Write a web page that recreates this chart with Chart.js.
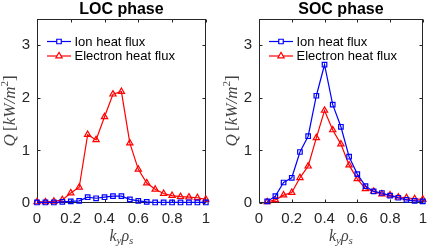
<!DOCTYPE html>
<html>
<head>
<meta charset="utf-8">
<script src="https://cdn.jsdelivr.net/npm/chart.js@4.4.0/dist/chart.umd.min.js"></script>
<style>
  body { margin: 0; background: #fff; }
  #wrap { position: relative; width: 434px; height: 248px; }
  canvas { position: absolute; top: 0; }
</style>
</head>
<body>
<div id="wrap">
  <canvas id="locChart" width="217" height="248" style="left:0"></canvas>
  <canvas id="socChart" width="217" height="248" style="left:217px"></canvas>
</div>
<script>
// k_y rho_s values
const kyLOC = [0, 0.05, 0.1, 0.15, 0.2, 0.25, 0.3, 0.35, 0.4, 0.45, 0.5, 0.55, 0.6, 0.65, 0.7, 0.75, 0.8, 0.85, 0.9, 0.95, 1.0];
const kySOC = [0.05, 0.1, 0.15, 0.2, 0.25, 0.3, 0.35, 0.4, 0.45, 0.5, 0.55, 0.6, 0.65, 0.7, 0.75, 0.8, 0.85, 0.9, 0.95, 1.0];

// heat flux Q [kW/m^2]
const ionLOC = [0.01, 0.01, 0.01, 0.02, 0.03, 0.04, 0.11, 0.09, 0.11, 0.13, 0.13, 0.07, 0.04, 0.02, 0.01, 0.01, 0.01, 0.01, 0.01, 0.01, 0.01];
const elecLOC = [0.02, 0.02, 0.03, 0.06, 0.19, 0.30, 1.30, 1.20, 1.64, 2.07, 2.12, 1.14, 0.64, 0.38, 0.26, 0.18, 0.14, 0.12, 0.11, 0.10, 0.07];
const ionSOC = [0.03, 0.13, 0.39, 0.48, 0.97, 1.27, 2.04, 2.63, 1.87, 1.45, 0.88, 0.55, 0.32, 0.22, 0.19, 0.14, 0.10, 0.06, 0.04, 0.03];
const elecSOC = [0.02, 0.06, 0.15, 0.20, 0.48, 0.70, 1.24, 1.76, 1.39, 1.12, 0.72, 0.46, 0.27, 0.22, 0.17, 0.15, 0.11, 0.10, 0.08, 0.07];

const xTicks = [0, 0.2, 0.4, 0.6, 0.8, 1];
const yTicks = [0, 1, 2, 3];
const seriesNames = ['Ion heat flux', 'Electron heat flux'];

const axisColor = '#262626';
const sans = "'Liberation Sans', Arial, sans-serif";
const serif = "'Liberation Serif', 'Times New Roman', serif";

function drawPieces(ctx, pieces, x, y) {
    let total = 0;
    pieces.forEach(p => { ctx.font = p.font; p.w = ctx.measureText(p.text).width; total += p.w; });
    let cx = x - total / 2;
    pieces.forEach(p => { ctx.font = p.font; ctx.fillText(p.text, cx, y + (p.dy || 0)); cx += p.w; });
}

const framePlugin = {
    id: 'frame',
    beforeDatasetsDraw(chart) {
        const ctx = chart.ctx;
        const a = chart.chartArea;
        const xs = chart.scales.x, ys = chart.scales.y;
        const L = Math.round(a.left) + 0.5, R = Math.round(a.right) - 0.5;
        const T = Math.round(a.top) + 0.5, B = Math.round(a.bottom) - 0.5;
        ctx.save();
        ctx.strokeStyle = axisColor;
        ctx.lineWidth = 1;
        ctx.strokeRect(L, T, R - L, B - T);
        ctx.beginPath();
        xTicks.forEach(v => {
            const px = Math.round(xs.getPixelForValue(v)) + 0.5;
            ctx.moveTo(px, B); ctx.lineTo(px, B - 3);
            ctx.moveTo(px, T); ctx.lineTo(px, T + 3);
        });
        yTicks.forEach(v => {
            const py = Math.round(ys.getPixelForValue(v)) + 0.5;
            ctx.moveTo(L, py); ctx.lineTo(L + 3, py);
            ctx.moveTo(R, py); ctx.lineTo(R - 3, py);
        });
        ctx.stroke();
        ctx.restore();
    },
    afterDraw(chart, args, opts) {
        const ctx = chart.ctx;
        const a = chart.chartArea;
        const midX = (a.left + a.right) / 2;
        const midY = (a.top + a.bottom) / 2;
        ctx.save();

        // title
        ctx.fillStyle = '#000';
        ctx.textAlign = 'center';
        ctx.textBaseline = 'alphabetic';
        ctx.font = 'bold 16px ' + sans;
        ctx.fillText(opts.title, midX, 13.5);

        // axis labels
        ctx.textAlign = 'left';
        ctx.fillStyle = '#444';
        drawPieces(ctx, [
            { text: 'k', font: 'italic 16px ' + serif },
            { text: 'y', font: 'italic 11px ' + serif, dy: 3 },
            { text: 'ρ', font: 'italic 16px ' + serif },
            { text: 's', font: 'italic 11px ' + serif, dy: 3 }
        ], midX, 241);

        ctx.save();
        ctx.translate(a.left - 22, midY);
        ctx.rotate(-Math.PI / 2);
        drawPieces(ctx, [
            { text: 'Q', font: 'italic 17px ' + serif },
            { text: '\u2009[', font: '17px ' + serif },
            { text: 'kW/m', font: 'italic 17px ' + serif },
            { text: '2', font: '11px ' + serif, dy: -7 },
            { text: ']', font: '17px ' + serif }
        ], 0, 0);
        ctx.restore();

        // legend
        ctx.textBaseline = 'middle';
        ctx.font = '13px ' + sans;
        chart.data.datasets.forEach((ds, i) => {
            const y = a.top + 22.5 + i * 14.5;
            ctx.strokeStyle = ds.borderColor;
            ctx.lineWidth = ds.borderWidth;
            ctx.beginPath();
            ctx.moveTo(a.left + 10, y);
            ctx.lineTo(a.left + 34, y);
            ctx.stroke();
            ctx.fillStyle = '#ffffff';
            Chart.helpers.drawPoint(ctx, {
                pointStyle: ds.pointStyle,
                radius: ds.pointRadius,
                borderWidth: ds.borderWidth,
                rotation: 0
            }, a.left + 22, y);
            ctx.fillStyle = '#000';
            ctx.fillText(ds.label, a.left + 37.5, y + 0.5);
        });
        ctx.restore();
    }
};

function makeChart(id, title, ky, ion, elec, leftW) {
    const ctx = document.getElementById(id).getContext('2d');
    const toPts = (vals) => vals.map((v, i) => ({ x: ky[i], y: v }));
    return new Chart(ctx, {
        type: 'line',
        data: {
            datasets: [{
                label: seriesNames[0],
                data: toPts(ion),
                borderColor: '#0000ff',
                backgroundColor: 'rgba(0,0,0,0)',
                pointBackgroundColor: 'rgba(0,0,0,0)',
                pointBorderColor: '#0000ff',
                pointStyle: 'rect',
                pointRadius: 3.2,
                borderWidth: 1.2,
                tension: 0,
                clip: false
            }, {
                label: seriesNames[1],
                data: toPts(elec),
                borderColor: '#ff0000',
                backgroundColor: 'rgba(0,0,0,0)',
                pointBackgroundColor: 'rgba(0,0,0,0)',
                pointBorderColor: '#ff0000',
                pointStyle: 'triangle',
                pointRadius: 3.6,
                borderWidth: 1.2,
                tension: 0,
                clip: false
            }]
        },
        options: {
            responsive: false,
            animation: false,
            devicePixelRatio: 1,
            layout: { padding: { left: 0, right: 217 - leftW - 170, top: 19, bottom: 0 } },
            scales: {
                x: {
                    type: 'linear',
                    min: 0, max: 1,
                    afterBuildTicks: (s) => { s.ticks = xTicks.map(v => ({ value: v })); },
                    afterFit: (s) => { s.height = 45; },
                    grid: { display: false, drawTicks: false },
                    border: { display: false },
                    ticks: {
                        color: axisColor,
                        font: { family: sans, size: 15 },
                        padding: 7,
                        maxRotation: 0,
                        callback: (v) => String(v)
                    }
                },
                y: {
                    min: 0, max: 3.5,
                    afterBuildTicks: (s) => { s.ticks = yTicks.map(v => ({ value: v })); },
                    afterFit: (s) => { s.width = leftW; },
                    grid: { display: false, drawTicks: false },
                    border: { display: false },
                    ticks: {
                        color: axisColor,
                        font: { family: sans, size: 15 },
                        padding: 7,
                        callback: (v) => String(v)
                    }
                }
            },
            plugins: {
                legend: { display: false },
                tooltip: { enabled: false },
                frame: { title: title }
            }
        },
        plugins: [framePlugin]
    });
}

makeChart('locChart', 'LOC phase', kyLOC, ionLOC, elecLOC, 37);
makeChart('socChart', 'SOC phase', kySOC, ionSOC, elecSOC, 42);
</script>
</body>
</html>
